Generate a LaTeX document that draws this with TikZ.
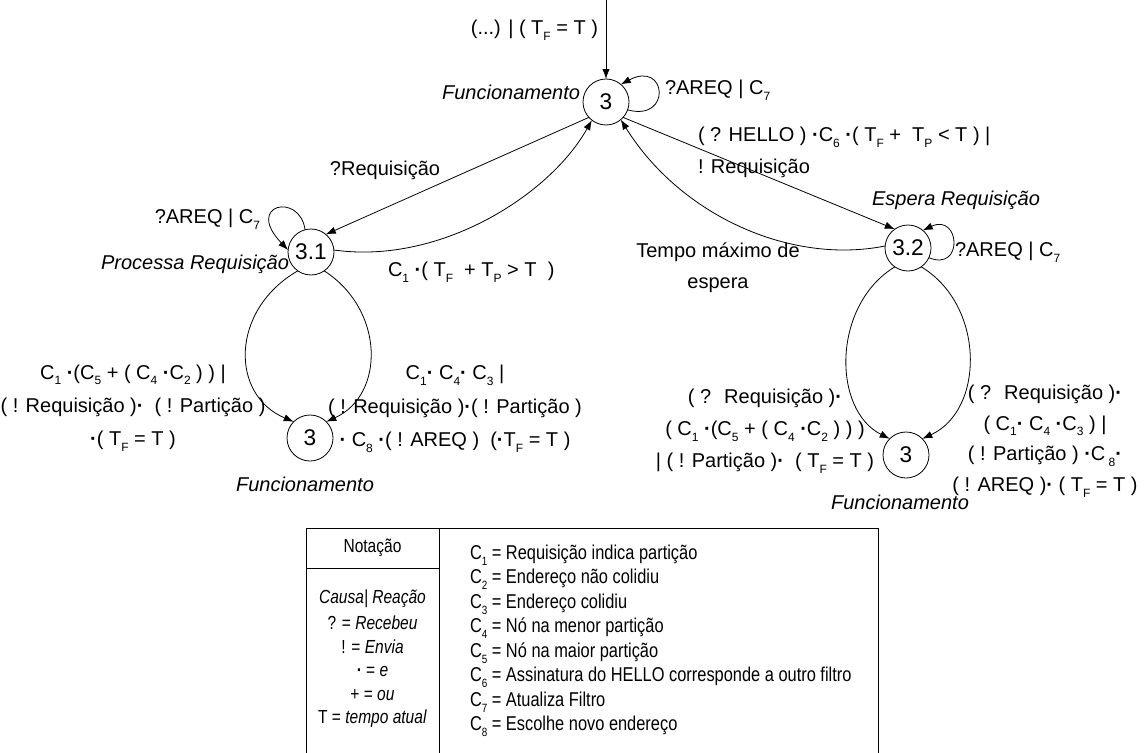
\documentclass[tikz,border=0pt]{standalone}
\usepackage{fontspec}
\setmainfont{Liberation Sans}
\newfontfamily\tablefont[FakeStretch=0.82]{Liberation Sans}
\usetikzlibrary{arrows.meta}
\newcommand\lsub[1]{\raisebox{-0.55ex}{\fontsize{9}{9}\selectfont #1}}
\newcommand\dt{\textbf{·}}

\begin{document}
\begin{tikzpicture}[x=0.75pt,y=-0.75pt,
  every node/.style={inner sep=0pt, outer sep=0pt},
  state/.style={draw, circle, minimum size=34.5pt, line width=0.6pt,
    font=\fontsize{17}{18}\selectfont},
  arr/.style={line width=0.6pt, -{Latex[length=7.5pt,width=5.5pt]}},
  link/.style={line width=0.6pt},
  lbl/.style={font=\fontsize{15}{18}\selectfont, align=center},
  statename/.style={font=\fontsize{15}{18}\selectfont\itshape},
  tab/.style={font=\tablefont\fontsize{15}{18}\selectfont},
  tabkey/.style={font=\tablefont\fontsize{14.2}{18}\selectfont}
]
\fill[white] (0,0) rectangle (1146,753);
\useasboundingbox (0,0) rectangle (1146,753);

% states
\node[state] (T) at (606,102) {3};
\node[state] (A) at (311,252) {3.1};
\node[state] (B) at (908,248) {3.2};
\node[state] (L) at (310,438) {3};
\node[state] (R) at (906,455) {3};
\coordinate (in) at (606,0);

% state names
\node[statename, anchor=east] (nT) at (580,92) {Funcionamento};
\node[statename, anchor=east] (nA) at (289,264) {Processa Requisição};
\node[statename] (nB) at (956,200) {Espera Requisição};
\node[statename] (nL) at (305,484) {Funcionamento};
\node[statename] (nR) at (900,502) {Funcionamento};

% transitions
\draw[arr] (in) -- (T);
\draw[arr] (T.-20) .. controls (672,122) and (667,60) .. (T.50);
\draw[arr] (A.105) .. controls (300,192) and (244,204) .. (A.175);
\draw[arr] (B.-25) .. controls (964,272) and (960,213) .. (B.50);
\draw[arr] (T.222) -- (A.50);
\draw[arr] (A.5) .. controls (440,265) and (550,195) .. (T.232);
\draw[arr] (T.-42) -- (B.125);
\draw[arr] (B.175) .. controls (790,265) and (680,215) .. (T.-50);
\draw[arr] (A.235) .. controls (230,310) and (230,395) .. (L.135);
\draw[arr] (A.-55) .. controls (385,310) and (385,395) .. (L.45);
\draw[arr] (B.235) .. controls (832,305) and (832,410) .. (R.135);
\draw[arr] (B.-55) .. controls (985,305) and (985,410) .. (R.45);

% transition labels
\node[lbl, anchor=east] (t0) at (598,30) {(...) | ( T\lsub{F} = T )};
\node[lbl, anchor=west] (t1) at (665,90) {?AREQ | C\lsub{7}};
\node[lbl, anchor=north west, align=left, font=\fontsize{15}{24}\selectfont] (t2) at (698,127)
  {( ? HELLO ) \dt C\lsub{6} \dt( T\lsub{F} +~ T\lsub{P} < T ) |\\ ! Requisição};
\node[lbl] (t3) at (385,170) {?Requisição};
\node[lbl, anchor=east] (t4) at (260,219) {?AREQ | C\lsub{7}};
\node[lbl, anchor=west] (t5) at (388,272) {C\lsub{1} \dt ( T\lsub{F} ~+ T\lsub{P} > T~ )};
\node[lbl, anchor=west] (t6) at (955,252) {?AREQ | C\lsub{7}};
\node[lbl, font=\fontsize{15}{23}\selectfont] (t7) at (718,268) {Tempo máximo de\\espera};
\node[lbl, font=\fontsize{15}{25}\selectfont] (t8) at (133,408)
  {C\lsub{1} \dt(C\lsub{5} + ( C\lsub{4} \dt C\lsub{2} ) ) |\\
   ( ! Requisição )\dt~ ( ! Partição )\\
   \dt( T\lsub{F} = T )};
\node[lbl, font=\fontsize{15}{25}\selectfont] (t9) at (455,409)
  {C\lsub{1}\dt\ C\lsub{4}\dt\ C\lsub{3} |\\
   ( ! Requisição )\dt( ! Partição )\\
   \dt\ C\lsub{8} \dt( ! AREQ )~ (\dt T\lsub{F} = T )};
\node[lbl, font=\fontsize{15}{24}\selectfont] (t10) at (765,431)
  {( ?~ Requisição )\dt\\
   ( C\lsub{1} \dt(C\lsub{5} + ( C\lsub{4} \dt C\lsub{2} ) ) )\\
   | ( ! Partição )\dt~ ( T\lsub{F} = T )};
\node[lbl, font=\fontsize{15}{23}\selectfont] (t11) at (1045,441)
  {( ?~ Requisição )\dt\\
   ( C\lsub{1}\dt\ C\lsub{4} \dt C\lsub{3} ) |\\
   ( ! Partição ) \dt C\,\lsub{8}\dt\\
   ( ! AREQ )\dt\ ( T\lsub{F} = T )};

% notation table
\draw[link] (306,753) -- (306,528) -- (878,528) -- (878,753);
\draw[link] (439,528) -- (439,753);
\draw[link] (306,568) -- (439,568);
\node[tabkey] (hd) at (372.5,548) {Notação};
\node[tabkey] (k1) at (372.5,599) {\itshape Causa| Reação};
\node[tabkey] (k2) at (372.5,623) {? = \textit{Recebeu}};
\node[tabkey] (k3) at (372.5,647) {! = \textit{Envia}};
\node[tabkey] (k4) at (372.5,671) {\dt\ = \textit{e}};
\node[tabkey] (k5) at (372.5,695) {+ = \textit{ou}};
\node[tabkey] (k6) at (372.5,719) {T = \textit{tempo atual}};
\node[tab, anchor=west] (c1) at (470,555) {C\lsub{1} = Requisição indica partição};
\node[tab, anchor=west] (c2) at (470,579.5) {C\lsub{2} = Endereço não colidiu};
\node[tab, anchor=west] (c3) at (470,604) {C\lsub{3} = Endereço colidiu};
\node[tab, anchor=west] (c4) at (470,628.5) {C\lsub{4} = Nó na menor partição};
\node[tab, anchor=west] (c5) at (470,653) {C\lsub{5} = Nó na maior partição};
\node[tab, anchor=west] (c6) at (470,677.5) {C\lsub{6} = Assinatura do HELLO corresponde a outro filtro};
\node[tab, anchor=west] (c7) at (470,702) {C\lsub{7} = Atualiza Filtro};
\node[tab, anchor=west] (c8) at (470,726.5) {C\lsub{8} = Escolhe novo endereço};
\end{tikzpicture}
\end{document}
